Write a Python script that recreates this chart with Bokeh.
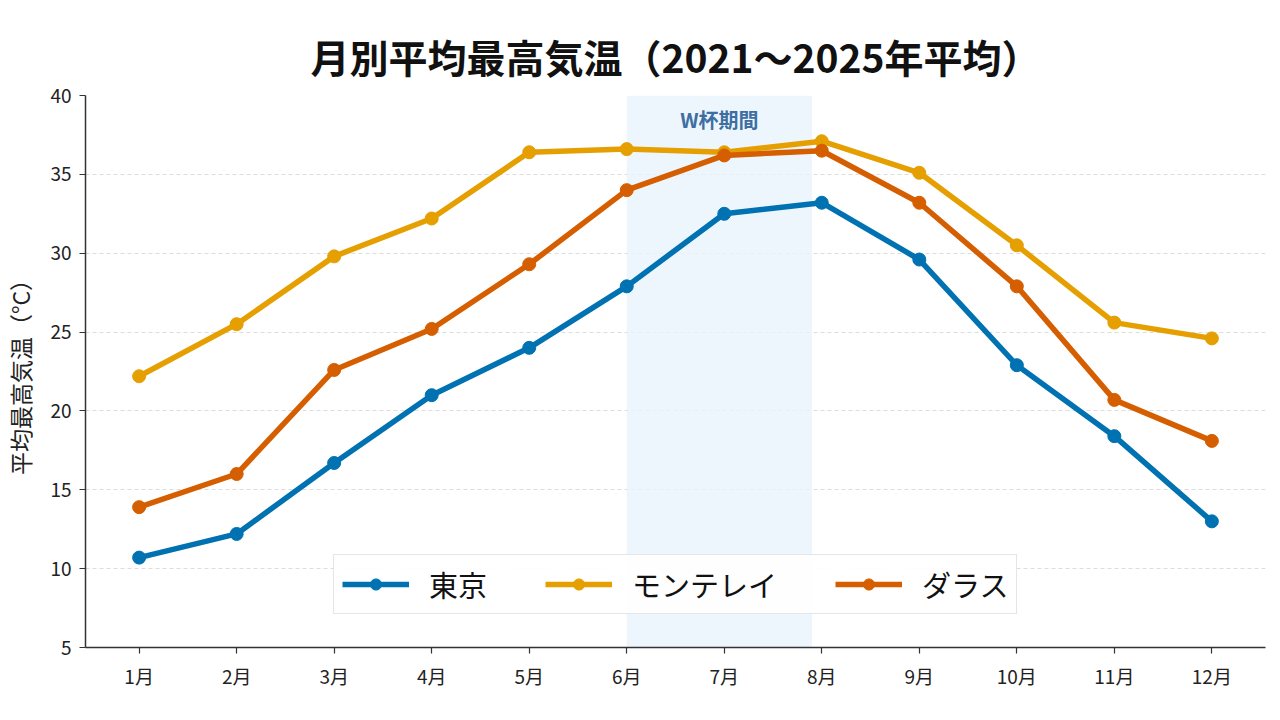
from bokeh.plotting import figure
from bokeh.models import BoxAnnotation, Label, Legend, LegendItem, FixedTicker, ColumnDataSource
from bokeh.embed import file_html
from bokeh.resources import INLINE

months = [1, 2, 3, 4, 5, 6, 7, 8, 9, 10, 11, 12]
month_labels = ["1月", "2月", "3月", "4月", "5月", "6月", "7月", "8月", "9月", "10月", "11月", "12月"]
tokyo = [10.7, 12.2, 16.7, 21.0, 24.0, 27.9, 32.5, 33.2, 29.6, 22.9, 18.4, 13.0]
monterrey = [22.2, 25.5, 29.8, 32.2, 36.4, 36.6, 36.4, 37.1, 35.1, 30.5, 25.6, 24.6]
dallas = [13.9, 16.0, 22.6, 25.2, 29.3, 34.0, 36.2, 36.5, 33.2, 27.9, 20.7, 18.1]
series_names = ["東京", "モンテレイ", "ダラス"]
series_colors = ["#0072B2", "#E69F00", "#D55E00"]
wc_start, wc_end = 6.0, 7.9
y_ticks = [5, 10, 15, 20, 25, 30, 35, 40]

FONT = "Noto Sans CJK JP"

p = figure(width=1280, height=720, x_range=(0.45, 12.55), y_range=(5, 40),
           output_backend="svg", toolbar_location=None,
           min_border_left=85, min_border_right=15, min_border_top=95, min_border_bottom=73,
           title="月別平均最高気温（2021～2025年平均）")
p.title.text_font = FONT
p.title.text_font_size = "39px"
p.title.text_font_style = "bold"
p.title.align = "center"
p.title.offset = -12
p.title.standoff = 24
p.title.text_color = "#111111"
p.outline_line_color = None
p.background_fill_color = "white"
p.border_fill_color = "white"

# shaded W-cup period
p.add_layout(BoxAnnotation(left=wc_start, right=wc_end, fill_color="#eaf4fc", fill_alpha=0.8,
                           line_color=None, level="underlay"))
p.add_layout(Label(x=(wc_start + wc_end) / 2, y=38.5, text="W杯期間", text_align="center",
                   text_baseline="middle", text_font=FONT, text_font_size="20px",
                   text_font_style="bold", text_color="#3d6fa3"))

items = []
for name, vals, col in zip(series_names, [tokyo, monterrey, dallas], series_colors):
    src = ColumnDataSource(dict(x=months, y=vals))
    l = p.line("x", "y", source=src, line_color=col, line_width=5.5)
    s = p.scatter("x", "y", source=src, size=13, fill_color=col, line_color=col)
    items.append(LegendItem(label=name, renderers=[l, s]))

legend = Legend(items=items, orientation="horizontal", location=(248, 33))
legend.label_text_font = FONT
legend.label_text_font_size = "29px"
legend.label_text_color = "#111111"
legend.glyph_width = 67
legend.glyph_height = 28
legend.label_standoff = 20
legend.label_height = 28
legend.spacing = 58
legend.padding = 8
legend.margin = 0
legend.border_line_color = "#cccccc"
legend.border_line_width = 1.5
legend.background_fill_alpha = 0.9
p.add_layout(legend, "center")

# axes
p.xaxis.ticker = FixedTicker(ticks=months)
p.xaxis.major_label_overrides = {m: lab for m, lab in zip(months, month_labels)}
p.yaxis.ticker = FixedTicker(ticks=y_ticks)
for ax in (p.xaxis, p.yaxis):
    ax.major_label_text_font = FONT
    ax.major_label_text_font_size = "19px"
    ax.major_label_text_color = "#222222"
    ax.axis_line_color = "#333333"
    ax.axis_line_width = 1.5
    ax.major_tick_line_color = "#333333"
    ax.major_tick_line_width = 1.2
    ax.major_tick_out = 6
    ax.major_tick_in = 0
    ax.minor_tick_line_color = None
p.yaxis.axis_label = "平均最高気温（°C）"
p.yaxis.axis_label_text_font = FONT
p.yaxis.axis_label_text_font_size = "23px"
p.yaxis.axis_label_text_font_style = "normal"
p.yaxis.axis_label_text_color = "#222222"
p.yaxis.axis_label_standoff = 10
p.xaxis.major_label_standoff = 8
p.yaxis.major_label_standoff = 8

p.xgrid.grid_line_color = None
p.ygrid.grid_line_color = "#dddddd"
p.ygrid.grid_line_dash = "4 3"
p.ygrid.grid_line_width = 1

open("out.html", "w").write(file_html(p, INLINE))
